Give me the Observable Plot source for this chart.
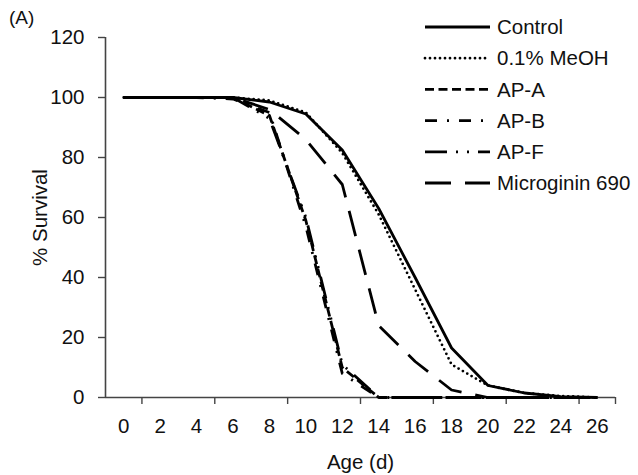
<!DOCTYPE html>
<html>
<head>
<meta charset="utf-8">
<script src="https://cdn.jsdelivr.net/npm/d3@7"></script>
<script src="https://cdn.jsdelivr.net/npm/@observablehq/plot@0.6"></script>
<style>
  body { margin: 0; background: #fff; }
  #wrap { position: relative; width: 638px; height: 475px; font-family: "Liberation Sans", Arial, sans-serif; color: #111; }
  #panel { position: absolute; left: 9px; top: 7px; font-size: 19px; }
  #legend { position: absolute; left: 0; top: 0; pointer-events: none; }
</style>
</head>
<body>
<div id="wrap"><div id="panel">(A)</div></div>
<script>
// ---- data ----
const days = [0, 2, 4, 6, 8, 10, 12, 14, 16, 18, 20, 22, 24, 26];
const control    = [100, 100, 100, 100, 98.5, 94.5, 82.5, 63, 40, 16.5, 4, 1.5, 0.3, 0];
const meoh       = [100, 100, 100, 100, 99, 95, 81.5, 61, 36, 11, 4, 1.5, 0.5, 0];
const apA        = [100, 100, 100, 100, 94, 59, 10, 0, 0, 0, 0, 0, 0, 0];
const apB        = [100, 100, 100, 99.5, 95, 57, 8, 0, 0, 0, 0, 0, 0, 0];
const apF        = [100, 100, 100, 100, 93, 60, 11, 0, 0, 0, 0, 0, 0, 0];
const microginin = [100, 100, 100, 100, 96, 86, 71, 24, 12, 2.5, 0, 0, 0, 0];
const seriesNames = ["Control", "0.1% MeOH", "AP-A", "AP-B", "AP-F", "Microginin 690"];
const seriesValues = [control, meoh, apA, apB, apF, microginin];
const yTicks = [0, 20, 40, 60, 80, 100, 120];
const xLabels = [0, 2, 4, 6, 8, 10, 12, 14, 16, 18, 20, 22, 24, 26];
const xTickMarks = [1, 5, 9, 13, 17, 21, 25, 27];

// ---- styles (separate from data) ----
const styles = {
  "Control":        { dash: null,              cap: "butt" },
  "0.1% MeOH":      { dash: "0 5",             cap: "round" },
  "AP-A":           { dash: "9 4.5",           cap: "butt" },
  "AP-B":           { dash: "12 10 2 10",      cap: "butt" },
  "AP-F":           { dash: "22 9 2 9 2 9",    cap: "butt" },
  "Microginin 690": { dash: "26 14",           cap: "butt" }
};
const drawOrder = ["AP-F", "AP-B", "AP-A", "Microginin 690", "0.1% MeOH", "Control"];

const table = seriesNames.flatMap((name, i) =>
  days.map((d, j) => ({ name, day: d, v: seriesValues[i][j] })));

const lineMarks = drawOrder.map(name => Plot.line(table.filter(r => r.name === name), {
  x: "day", y: "v", stroke: "#000", strokeWidth: 2.8,
  strokeDasharray: styles[name].dash, strokeLinecap: styles[name].cap, strokeLinejoin: "round"
}));

const FS = 20.5;
const chart = Plot.plot({
  width: 638, height: 475,
  marginLeft: 105, marginRight: 23, marginTop: 37, marginBottom: 78,
  style: { fontFamily: "Liberation Sans, Arial, sans-serif", background: "#fff", color: "#111" },
  x: { domain: [-1, 27] },
  y: { domain: [0, 120] },
  marks: [
    Plot.axisY(yTicks, { tickSize: 7, tickPadding: 14, fontSize: FS, label: null, stroke: "#444", strokeWidth: 1.4 }),
    Plot.axisX(xLabels, { tickSize: 0, tickPadding: 21, fontSize: FS, label: null }),
    Plot.axisX(xTickMarks, { tickSize: 7, tickFormat: () => "", label: null, stroke: "#444", strokeWidth: 1.4 }),
    Plot.ruleY([0], { stroke: "#444", strokeWidth: 1.6 }),
    Plot.ruleX([-1], { stroke: "#444", strokeWidth: 1.6 }),
    ...lineMarks,
    Plot.text(["% Survival"], { frameAnchor: "left", textAnchor: "middle", lineAnchor: "middle", rotate: -90, dx: -65, fontSize: FS, fill: "#111" }),
    Plot.text(["Age (d)"], { frameAnchor: "bottom", textAnchor: "middle", lineAnchor: "middle", dy: 65, fontSize: FS, fill: "#111" })
  ]
});
document.getElementById("wrap").appendChild(chart);

// ---- legend ----
const lg = d3.select("#wrap").append("svg").attr("id", "legend")
  .attr("width", 638).attr("height", 210);
seriesNames.forEach((name, i) => {
  const y = 27 + i * 31.2;
  lg.append("line").attr("x1", 425).attr("x2", 490).attr("y1", y).attr("y2", y)
    .attr("stroke", "#000").attr("stroke-width", 2.8)
    .attr("stroke-dasharray", styles[name].dash)
    .attr("stroke-linecap", styles[name].cap);
  lg.append("text").attr("x", 497).attr("y", y).attr("dy", "0.35em")
    .attr("font-family", "Liberation Sans, Arial, sans-serif").attr("font-size", FS)
    .attr("fill", "#111").text(name);
});
</script>
</body>
</html>
